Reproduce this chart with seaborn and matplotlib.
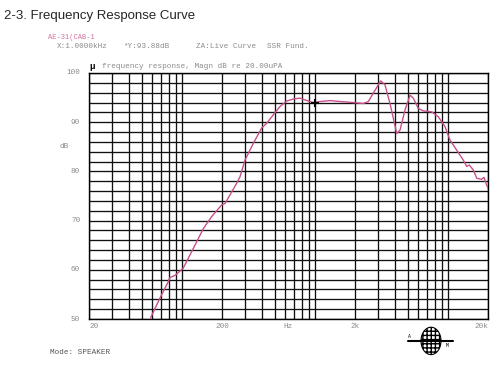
import numpy as np
import pandas as pd
import matplotlib
matplotlib.use("Agg")
import matplotlib.pyplot as plt
import seaborn as sns
from matplotlib.ticker import LogLocator, MultipleLocator, NullFormatter
from matplotlib.patches import Ellipse

# frequency response (Hz, dB)
freq = [58, 69, 79, 81, 89, 102, 122, 145, 167, 199, 211, 258, 273, 298, 344,
        397, 434, 486, 546, 613, 687, 771, 866, 971, 1092, 1297, 1542, 1942,
        2308, 2518, 2746, 3120, 3360, 3666, 4120, 4360, 4755, 5190, 5485,
        5985, 6530, 7550, 8460, 9500, 10350, 11640, 13040, 13840, 14460,
        15500, 16450, 17950, 18660, 19540, 20000]
level = [50.2, 54.5, 57.6, 58.4, 58.9, 60.3, 64.4, 68.4, 70.8, 73.2, 73.5,
         77.6, 78.9, 82.3, 85.7, 88.8, 89.8, 91.5, 93.2, 94.3, 94.7, 94.9,
         94.4, 94.0, 94.2, 94.4, 94.2, 94.0, 93.8, 94.2, 95.9, 98.4, 97.6,
         93.8, 87.7, 88.4, 92.5, 95.5, 94.9, 92.8, 92.3, 92.1, 91.1, 89.1,
         86.4, 84.3, 82.3, 81.0, 81.3, 80.3, 78.6, 78.4, 78.8, 77.2, 76.6]
y_ticks = [50, 60, 70, 80, 90, 100]
x_ticks = [20, 200, 632, 2000, 20000]
x_labels = ["20", "200", "Hz", "2k", "20k"]

df = pd.DataFrame({"freq": freq, "level": level})

sns.set_style("white")
mono = ["Liberation Mono", "DejaVu Sans Mono"]
grey = "#8a8a8a"

fig = plt.figure(figsize=(5, 3.65), dpi=100)
ax = fig.add_axes([0.178, 0.126, 0.798, 0.674])

sns.lineplot(data=df, x="freq", y="level", ax=ax, color="#c8508a", lw=1.0,
             zorder=3)
ax.plot([1000], [93.88], marker="+", color="black", ms=6, mew=1.5, zorder=4)

ax.set_xscale("log")
ax.set_xlim(20, 20000)
ax.set_ylim(50, 100)
ax.xaxis.set_major_locator(LogLocator(base=10, subs=np.arange(1, 10)))
ax.xaxis.set_major_formatter(NullFormatter())
ax.xaxis.set_minor_formatter(NullFormatter())
ax.yaxis.set_major_locator(MultipleLocator(2))
ax.yaxis.set_major_formatter(NullFormatter())
ax.grid(True, which="major", color="#111111", lw=0.95)
ax.tick_params(length=0)
ax.set_xlabel("")
ax.set_ylabel("")
for s in ax.spines.values():
    s.set_color("black")
    s.set_linewidth(1.0)

# axis labels drawn as text
for v in y_ticks:
    ax.text(-0.022, (v - 50) / 50, str(v), transform=ax.transAxes, ha="right",
            va="center", fontsize=5.5, color=grey, family=mono)
ax.text(-0.05, 0.7, "dB", transform=ax.transAxes, ha="right", va="center",
        fontsize=5.5, color=grey, family=mono)
for v, t in zip(x_ticks, x_labels):
    ha = "center"
    if t == "20":
        ha = "left"
    if t == "20k":
        ha = "right"
    ax.text(v, 49.2, t, ha=ha, va="top", fontsize=5.5, color=grey, family=mono)

fig.text(0.008, 0.955, "2-3. Frequency Response Curve", fontsize=9.5,
         family=["Liberation Sans", "DejaVu Sans"], va="center")
fig.text(0.096, 0.898, "AE-31(CAB-1", fontsize=5, color="#d070a0", family=mono,
         va="center")
fig.text(0.114, 0.873, "X:1.0000kHz", fontsize=5.5, color=grey, family=mono,
         va="center")
fig.text(0.246, 0.873, "*Y:93.88dB", fontsize=5.5, color=grey, family=mono,
         va="center")
fig.text(0.392, 0.873, "ZA:Live Curve", fontsize=5.5, color=grey, family=mono,
         va="center")
fig.text(0.534, 0.873, "SSR Fund.", fontsize=5.5, color=grey, family=mono,
         va="center")
fig.text(0.178, 0.818, "\u03bc", fontsize=6.5, color="black", family=mono,
         weight="bold", va="center")
fig.text(0.205, 0.818, "frequency response, Magn dB re 20.00uPA", fontsize=5.5,
         color=grey, family=mono, va="center")
fig.text(0.1, 0.033, "Mode: SPEAKER", fontsize=5.5, color="#555555",
         family=mono, va="center")

# little globe logo
globe = Ellipse((0.862, 0.066), 0.04, 0.075, transform=fig.transFigure,
                facecolor="white", edgecolor="black", hatch="++++", lw=0.8)
fig.patches.append(globe)
fig.lines.append(plt.Line2D([0.815, 0.905], [0.066, 0.066],
                            transform=fig.transFigure, color="black", lw=1.5))
fig.text(0.815, 0.075, "A", fontsize=3.5, family=mono, color="black")
fig.text(0.892, 0.048, "M", fontsize=3.5, family=mono, color="black")

fig.savefig("out.png", dpi=100)
